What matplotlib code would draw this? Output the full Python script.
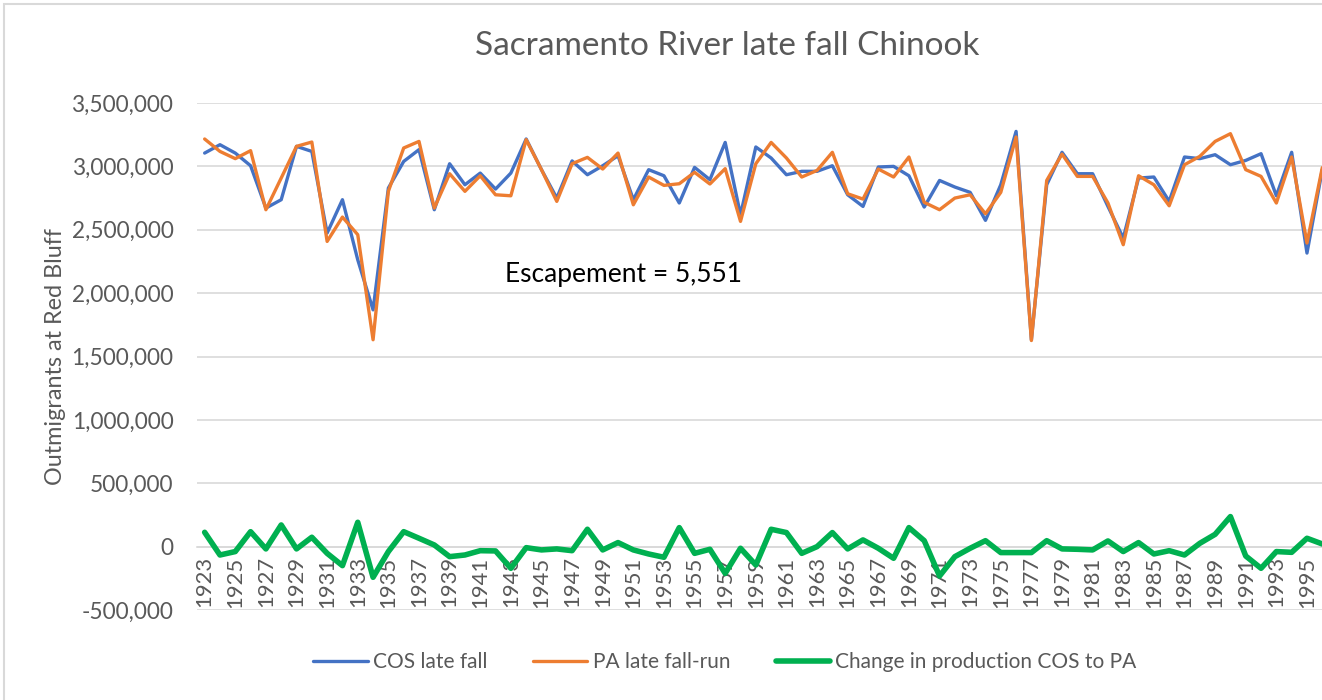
import matplotlib
matplotlib.use("Agg")
import matplotlib.pyplot as plt
from matplotlib.patches import Rectangle
from matplotlib.ticker import FuncFormatter, MultipleLocator

years = list(range(1923, 1997))

cos_late_fall = [
    3105000, 3171000, 3105000, 3005000, 2671000, 2737000, 3158000, 3118000, 2474000, 2737000,
    2263000, 1868000, 2829000, 3039000, 3132000, 2658000, 3021000, 2855000, 2947000, 2821000,
    2947000, 3216000, 2974000, 2750000, 3043000, 2934000, 3005000, 3084000, 2737000, 2974000,
    2926000, 2711000, 2992000, 2895000, 3189000, 2618000, 3153000, 3066000, 2934000, 2961000,
    2961000, 3005000, 2776000, 2684000, 2995000, 3000000, 2926000, 2679000, 2889000, 2837000,
    2795000, 2574000, 2855000, 3276000, 1632000, 2855000, 3111000, 2942000, 2942000, 2684000,
    2434000, 2908000, 2916000, 2724000, 3074000, 3061000, 3092000, 3013000, 3047000, 3100000,
    2768000, 3111000, 2316000, 2974000,
]

pa_late_fall_run = [
    3216000, 3118000, 3061000, 3124000, 2658000, 2908000, 3158000, 3192000, 2408000, 2600000,
    2461000, 1632000, 2803000, 3145000, 3197000, 2671000, 2942000, 2803000, 2926000, 2776000,
    2768000, 3211000, 2974000, 2724000, 3021000, 3071000, 2979000, 3105000, 2697000, 2916000,
    2850000, 2863000, 2953000, 2861000, 2982000, 2566000, 3021000, 3189000, 3066000, 2916000,
    2968000, 3111000, 2784000, 2742000, 2979000, 2916000, 3074000, 2716000, 2658000, 2750000,
    2776000, 2626000, 2795000, 3232000, 1626000, 2889000, 3097000, 2921000, 2921000, 2711000,
    2382000, 2926000, 2855000, 2689000, 3013000, 3079000, 3197000, 3258000, 2974000, 2921000,
    2711000, 3074000, 2395000, 2990000,
]

change_cos_to_pa = [
    113000, -66000, -39000, 118000, -18000, 171000, -18000, 74000, -53000, -150000,
    192000, -242000, -39000, 118000, 66000, 13000, -79000, -66000, -32000, -34000,
    -171000, -8000, -26000, -18000, -32000, 137000, -26000, 32000, -26000, -58000,
    -84000, 150000, -53000, -21000, -211000, -13000, -145000, 137000, 111000, -53000,
    0, 111000, -18000, 53000, -13000, -92000, 150000, 47000, -232000, -79000,
    -13000, 47000, -47000, -47000, -47000, 47000, -18000, -21000, -26000, 45000,
    -39000, 32000, -58000, -32000, -66000, 26000, 97000, 237000, -74000, -171000,
    -39000, -45000, 66000, 21000,
]

series_names = ["COS late fall", "PA late fall-run", "Change in production COS to PA"]
title_text = "Sacramento River late fall Chinook"
ylabel_text = "Outmigrants at Red Bluff"
note_text = "Escapement = 5,551"

FONT = ["Lato", "DejaVu Sans"]
plt.rcParams["font.family"] = FONT
GRAY = "#595959"
GRID = "#D9D9D9"

W, H = 1322, 700
fig = plt.figure(figsize=(W / 100, H / 100), dpi=100)
fig.patch.set_facecolor("white")

# chart-area border (cropped on right/bottom)
fig.add_artist(Rectangle((4 / W, -0.5), 2.0, (1 - 4 / H) + 0.5, transform=fig.transFigure,
                         fill=False, edgecolor=GRID, linewidth=1.5))

left, right = 197 / W, 1.0
bottom, top = 1 - 610 / H, 1 - 103 / H
ax = fig.add_axes([left, bottom, right - left, top - bottom])

ax.plot(years, cos_late_fall, color="#4472C4", lw=2.4, solid_joinstyle="round",
        solid_capstyle="round", label=series_names[0], zorder=3)
ax.plot(years, pa_late_fall_run, color="#ED7D31", lw=2.4, solid_joinstyle="round",
        solid_capstyle="round", label=series_names[1], zorder=4)
ax.plot(years, change_cos_to_pa, color="#00B050", lw=4.0, solid_joinstyle="round",
        solid_capstyle="round", label=series_names[2], zorder=5)

px_per_year = 15.31
ax.set_xlim(1922.5, 1922.5 + (W - 197) / px_per_year)
ax.set_ylim(-500000, 3500000)
ax.yaxis.set_major_locator(MultipleLocator(500000))
ax.yaxis.set_major_formatter(FuncFormatter(lambda v, p: f"{int(v):,}"))
ax.grid(axis="y", color=GRID, lw=1.2)
ax.set_axisbelow(True)

for s in ["top", "right", "left"]:
    ax.spines[s].set_visible(False)
ax.spines["bottom"].set_position(("data", 0))
ax.spines["bottom"].set_color(GRID)
ax.spines["bottom"].set_linewidth(1.2)

ax.set_xticks(years[::2])
ax.set_xticklabels([str(y) for y in years[::2]])

ax.tick_params(axis="y", length=0, pad=17, labelsize=16.3, labelcolor=GRAY)
ax.tick_params(axis="x", length=0, pad=7, labelsize=15.8, labelcolor=GRAY, labelrotation=90)

ax.set_ylabel(ylabel_text, fontsize=16.8, color=GRAY, labelpad=4)

ax.text(1942.6, 2144000, note_text, fontsize=19, color="black", ha="left", va="center")

fig.text(727 / W, 1 - 46 / H, title_text, fontsize=24, color=GRAY, ha="center", va="center")

handles, labels = ax.get_legend_handles_labels()
fig.legend(handles, labels, loc="center", bbox_to_anchor=(725 / W, 1 - 662 / H), ncol=3,
           frameon=False, fontsize=15, labelcolor=GRAY, handlelength=2.6, handletextpad=0.25,
           columnspacing=2.2)

fig.savefig("out.png", dpi=100, facecolor="white")
